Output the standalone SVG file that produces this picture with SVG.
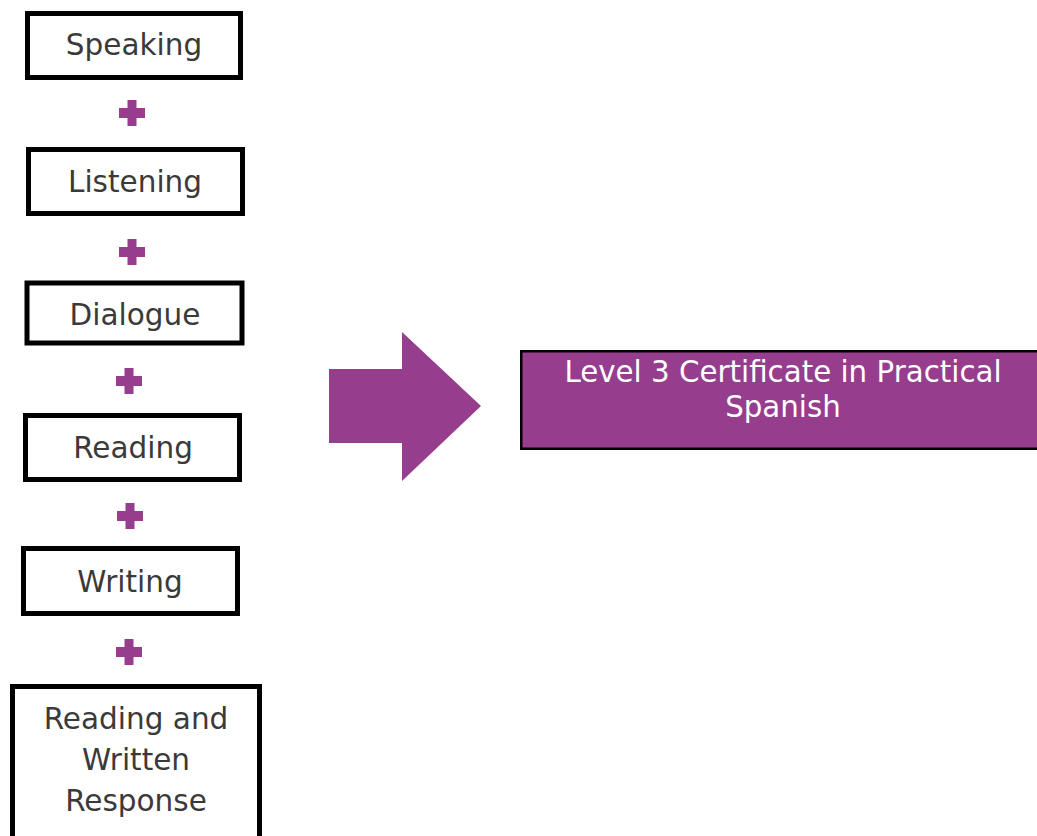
<svg xmlns="http://www.w3.org/2000/svg" width="1037" height="836" viewBox="0 0 1037 836">
<style>
.box{fill:#fff;stroke:#000;stroke-width:5}
.lbl{font-family:"DejaVu Sans","Liberation Sans",sans-serif;font-size:29.5px;fill:#3a3a3a;text-anchor:middle}
.plus{fill:#963d8d}
.cert{fill:#963d8d;stroke:#000;stroke-width:2.5}
.ctext{font-family:"DejaVu Sans","Liberation Sans",sans-serif;font-size:29.3px;fill:#fff;text-anchor:middle}
</style>
<defs>
<path id="plus" class="plus" d="M-4.5,-13 H4.5 V-5 H13 V5 H4.5 V13 H-4.5 V5 H-13 V-5 H-4.5 Z"/>
</defs>
<rect width="1037" height="836" fill="#fff"/>
<g id="speaking"><rect class="box" x="27.5" y="13.5" width="213" height="64"/><text class="lbl" x="134" y="55">Speaking</text></g>
<g id="listening"><rect class="box" x="28.5" y="149.5" width="214" height="64"/><text class="lbl" x="135" y="192">Listening</text></g>
<g id="dialogue"><rect class="box" x="27" y="283" width="215" height="60"/><text class="lbl" x="135" y="325">Dialogue</text></g>
<g id="reading"><rect class="box" x="25.5" y="415.5" width="214" height="64"/><text class="lbl" x="133" y="458">Reading</text></g>
<g id="writing"><rect class="box" x="23.5" y="548.5" width="214" height="65"/><text class="lbl" x="130" y="592">Writing</text></g>
<g id="reading-written"><rect class="box" x="12.5" y="686.5" width="247" height="160"/><text class="lbl" x="136" y="729">Reading and</text><text class="lbl" x="136" y="770">Written</text><text class="lbl" x="136" y="811">Response</text></g>
<g id="connectors">
<use href="#plus" x="132" y="113"/>
<use href="#plus" x="132" y="252"/>
<use href="#plus" x="129" y="381"/>
<use href="#plus" x="130" y="516"/>
<use href="#plus" x="129" y="652"/>
<path class="plus" d="M329,369 H402 V332 L481,406 L402,481 V443 H329 Z"/>
</g>
<g id="certificate"><rect class="cert" x="521.25" y="351.25" width="520" height="97.5"/><text class="ctext" x="783" y="382">Level 3 Certificate in Practical</text><text class="ctext" x="783" y="417">Spanish</text></g>
</svg>
